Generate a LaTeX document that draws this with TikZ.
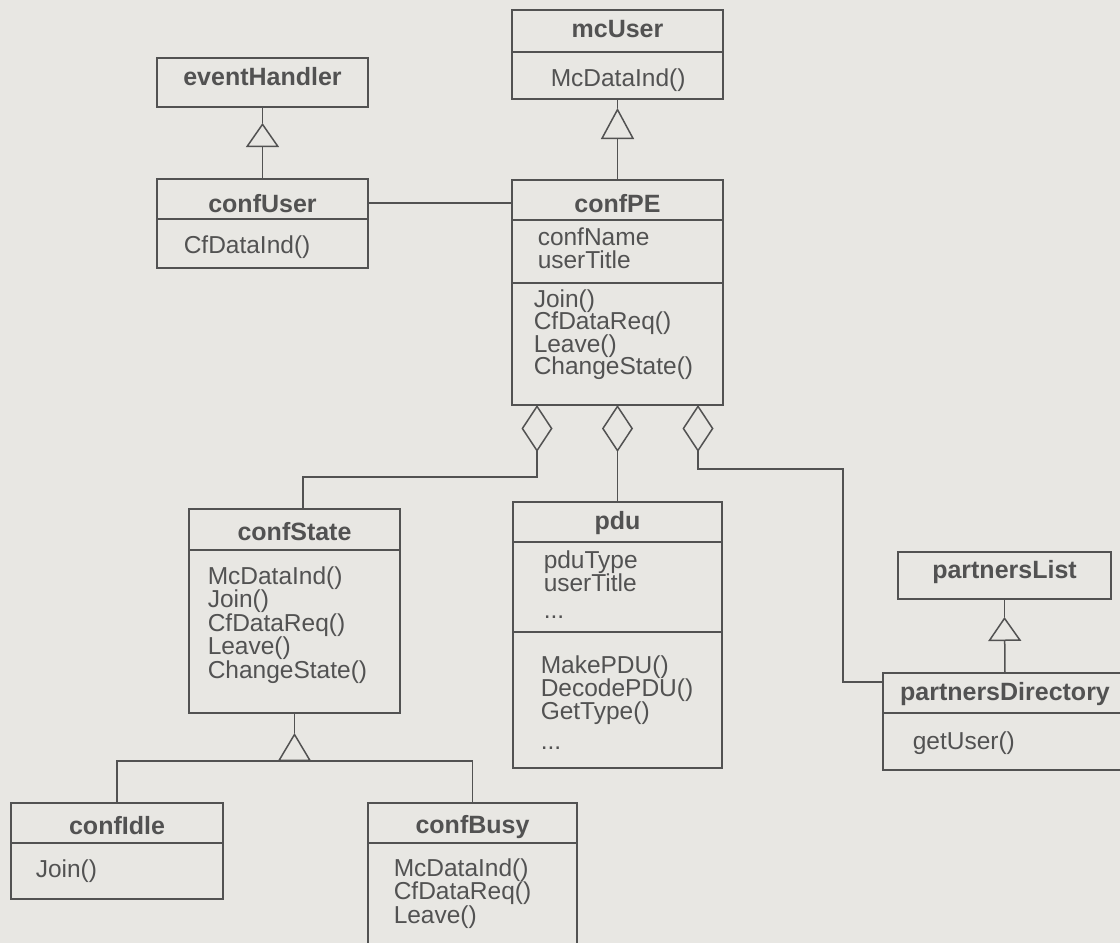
\documentclass[tikz,border=0pt]{standalone}
\usepackage{fontspec}
\setmainfont{Liberation Sans}
\usetikzlibrary{arrows.meta,calc}

\definecolor{paper}{RGB}{232,231,227}
\definecolor{ink}{RGB}{82,82,82}

% a column of member names, one node per line
\newcommand\members[5]{% name prefix, x, first baseline, line step, items
  \foreach \t [count=\i from 0] in {#5}
    \node[txt] (#1-\i) at (#2, #3+#4*\i) {\t};
}
% horizontal compartment divider, #2 below the top edge of class #1
\newcommand\divider[2]{%
  \draw ([yshift=-#2pt]#1.north west) -- ([yshift=-#2pt]#1.north east);
}

\begin{document}
\begin{tikzpicture}[x=1pt,y=-1pt,line width=1.5pt,draw=ink,text=ink,line join=miter,
  cls/.style={draw=ink,anchor=north west,inner sep=0pt,outer sep=0pt},
  hdr/.style={font=\bfseries\fontsize{25}{25}\selectfont,anchor=base,inner sep=0pt},
  txt/.style={font=\fontsize{24.5}{24.5}\selectfont,anchor=base west,inner sep=0pt},
  isa/.style={-{Triangle[fill=paper,length=#1,width=33pt]}},
  agg/.style={{Diamond[fill=paper,length=47pt,width=31pt]}-}]

\useasboundingbox (0,0) rectangle (1120,943);
\fill[paper] (0,0) rectangle (1120,943);
\clip (0,0) rectangle (1120,943);

% ---- classes ----
\node[cls,minimum width=211pt,minimum height=49pt]  (eventHandler) at (157,58) {};
\node[cls,minimum width=211pt,minimum height=89pt]  (confUser) at (157,179) {};
\node[cls,minimum width=211pt,minimum height=89pt]  (mcUser) at (512,10) {};
\node[cls,minimum width=211pt,minimum height=225pt] (confPE) at (512,180) {};
\node[cls,minimum width=209pt,minimum height=266pt] (pdu) at (513,502) {};
\node[cls,minimum width=211pt,minimum height=204pt] (confState) at (189,509) {};
\node[cls,minimum width=212pt,minimum height=96pt]  (confIdle) at (11,803) {};
\node[cls,minimum width=209pt,minimum height=200pt] (confBusy) at (368,803) {};
\node[cls,minimum width=213pt,minimum height=47pt]  (partnersList) at (898,552) {};
\node[cls,minimum width=244pt,minimum height=97pt]  (partnersDirectory) at (883,673) {};

% ---- compartments ----
\divider{confUser}{40}
\divider{mcUser}{42}
\divider{confPE}{40}
\divider{confPE}{103}
\divider{pdu}{40}
\divider{pdu}{130}
\divider{confState}{41}
\divider{confIdle}{40}
\divider{confBusy}{40}
\divider{partnersDirectory}{40}

% ---- class names ----
\node[hdr] (eventHandler-t) at (262.5,85) {eventHandler};
\node[hdr] (confUser-t) at (262.5,212) {confUser};
\node[hdr] (mcUser-t) at (617.5,37) {mcUser};
\node[hdr] (confPE-t) at (617.5,212) {confPE};
\node[hdr] (pdu-t) at (617.5,529) {pdu};
\node[hdr] (confState-t) at (294.5,540) {confState};
\node[hdr] (confIdle-t) at (117,834) {confIdle};
\node[hdr] (confBusy-t) at (472.5,833) {confBusy};
\node[hdr] (partnersList-t) at (1004.5,578) {partnersList};
\node[hdr] (partnersDirectory-t) at (1005,700) {partnersDirectory};

% ---- attributes and operations ----
\members{cu-op}{183}{253}{22}{CfDataInd()}
\members{mu-op}{550}{86}{22}{McDataInd()}
\members{pe-at}{537}{245}{23}{confName,userTitle}
\members{pe-op}{533}{307}{22.5}{Join(),CfDataReq(),Leave(),ChangeState()}
\members{pdu-at}{543}{568}{23.5}{pduType,userTitle}
\node[txt] (pdu-at-more) at (543,618) {...};
\members{pdu-op}{540}{673}{23}{MakePDU(),DecodePDU(),GetType()}
\node[txt] (pdu-op-more) at (540,749) {...};
\members{cs-op}{207}{584}{23.5}{McDataInd(),Join(),CfDataReq(),Leave(),ChangeState()}
\members{ci-op}{35}{877}{22}{Join()}
\members{cb-op}{393}{876}{23.5}{McDataInd(),CfDataReq(),Leave()}
\members{pd-op}{912}{749}{22}{getUser()}

% ---- association ----
\draw ($(confUser.north east)+(0,24)$) -- ($(confPE.north west)+(0,23)$);

% ---- generalisations ----
\coordinate (g1) at ($(eventHandler.south)+(0,16)$);
\draw[isa=24pt] (confUser.north) -- (g1);
\draw (g1) -- (eventHandler.south);

\coordinate (g2) at ($(mcUser.south)+(0,9)$);
\draw[isa=31pt] (confPE.north) -- (g2);
\draw (g2) -- (mcUser.south);

\coordinate (g3) at ($(partnersList.south)+(0,18)$);
\draw[isa=24pt] (partnersDirectory.north) -- (g3);
\draw (g3) -- (partnersList.south);

\coordinate (g4) at ($(confState.south)+(0,20)$);
\coordinate (g4b) at ($(g4)+(0,28)$);
\draw (confState.south) -- (g4);
\draw[isa=28pt] (g4b) -- (g4);
\draw (confIdle.north) |- (g4b) -| (confBusy.north);

% ---- aggregations ----
\coordinate (a1) at ($(confPE.south west)+(25,0)$);
\coordinate (a2) at (confPE.south);
\coordinate (a3) at ($(confPE.south east)+(-25,0)$);
\draw[agg] (a1) -- ++(0,72) -| ($(confState.north)+(8.5,0)$);
\draw[agg] (a2) -- (a2 |- pdu.north);
\draw[agg] (a3) -- ++(0,64) -| ($(partnersDirectory.north west)+(-40,9)$)
  -- ($(partnersDirectory.north west)+(0,9)$);
\end{tikzpicture}
\end{document}
